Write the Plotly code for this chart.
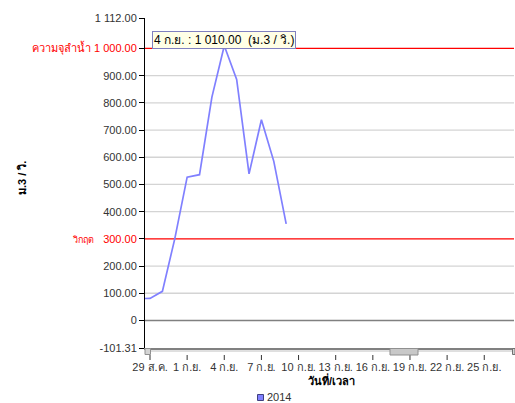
import plotly.graph_objects as go

dates = ["2014-08-28", "2014-08-29", "2014-08-30", "2014-08-31", "2014-09-01",
         "2014-09-02", "2014-09-03", "2014-09-04", "2014-09-05", "2014-09-06",
         "2014-09-07", "2014-09-08", "2014-09-09"]
flow = [80, 81, 107, 300, 527, 536, 821, 1010, 886, 539, 738, 585, 355]
series_name = "2014"

x_tick_vals = ["2014-08-29", "2014-09-01", "2014-09-04", "2014-09-07", "2014-09-10",
               "2014-09-13", "2014-09-16", "2014-09-19", "2014-09-22", "2014-09-25"]
x_tick_text = ["29 ส.ค.", "1 ก.ย.", "4 ก.ย.", "7 ก.ย.", "10 ก.ย.",
               "13 ก.ย.", "16 ก.ย.", "19 ก.ย.", "22 ก.ย.", "25 ก.ย."]

y_min, y_max = -101.31, 1112.0
grid_vals = [100, 200, 400, 500, 600, 700, 800, 900]
capacity = 1000
critical = 300
y_tick_vals = [y_min, 0, 100, 200, 300, 400, 500, 600, 700, 800, 900, 1000, y_max]
y_tick_text = ["-101.31", "0", "100.00", "200.00",
               "<span style='color:red'><span style='font-size:9px'>วิกฤต</span>   300.00</span>",
               "400.00", "500.00", "600.00", "700.00", "800.00", "900.00",
               "<span style='color:red'>ความจุลำน้ำ 1 000.00</span>", "1 112.00"]

FONT = "Tahoma, Liberation Sans, Arial, sans-serif"
L, T, W, H = 145, 18, 369, 330
LINE_COLOR = "#8080ff"

def px(xp):
    return (xp - L) / W

def py(yp):
    return (T + H - yp) / H

fig = go.Figure()
fig.add_trace(go.Scatter(x=dates, y=flow, mode="lines", name=series_name,
                         line=dict(color=LINE_COLOR, width=1.7), showlegend=False))

shapes = []
for g in grid_vals:
    shapes.append(dict(type="line", xref="paper", x0=0, x1=1, yref="y", y0=g, y1=g,
                       line=dict(color="#d4d4d4", width=1.3), layer="below"))
for r in (capacity, critical):
    shapes.append(dict(type="line", xref="paper", x0=0, x1=1, yref="y", y0=r, y1=r,
                       line=dict(color="#ff0000", width=1.2), layer="below"))
# zero line
shapes.append(dict(type="line", xref="paper", x0=0, x1=1, yref="y", y0=0, y1=0,
                   line=dict(color="#808080", width=1.5), layer="below"))
# x tick marks below the scrollbar
for tv in x_tick_vals:
    shapes.append(dict(type="line", xref="x", x0=tv, x1=tv, yref="paper",
                       y0=py(355), y1=py(360), line=dict(color="#333333", width=1)))
# scrollbar
shapes += [
    dict(type="line", xref="paper", yref="paper", x0=px(145), x1=px(515), y0=py(351), y1=py(351),
         line=dict(color="#c0c0c0", width=1), layer="above"),
    dict(type="rect", xref="paper", yref="paper", x0=px(145), x1=px(150.5), y0=py(354.5), y1=py(348.5),
         fillcolor="#d4d4d4", line=dict(color="#909090", width=1), layer="above"),
    dict(type="rect", xref="paper", yref="paper", x0=px(390), x1=px(418), y0=py(355), y1=py(348.5),
         fillcolor="#c8c8c8", line=dict(color="#909090", width=1), layer="above"),
    dict(type="rect", xref="paper", yref="paper", x0=px(512.5), x1=px(515), y0=py(354.5), y1=py(348.5),
         fillcolor="#d4d4d4", line=dict(color="#707070", width=1), layer="above"),
]
# legend swatch
shapes.append(dict(type="rect", xref="paper", yref="paper", x0=px(257.5), x1=px(263.5),
                   y0=py(400.5), y1=py(394.5), fillcolor=LINE_COLOR,
                   line=dict(color="#404080", width=1)))

annotations = [
    dict(text="4 ก.ย. : 1 010.00  (ม.3 / วิ.)", xref="paper", yref="paper",
         x=px(152), y=py(39.5), xanchor="left", yanchor="middle", showarrow=False,
         bgcolor="#ffffe6", bordercolor="#8080c0", borderwidth=1, borderpad=1,
         font=dict(family=FONT, size=12, color="#000000")),
    dict(text="<b>ม.3 / วิ.</b>", xref="paper", yref="paper", x=px(22), y=py(178),
         xanchor="center", yanchor="middle", textangle=-90, showarrow=False,
         font=dict(family=FONT, size=11, color="#000000")),
    dict(text="<b>วันที่/เวลา</b>", xref="paper", yref="paper", x=px(331), y=py(380),
         xanchor="center", yanchor="middle", showarrow=False,
         font=dict(family=FONT, size=11, color="#000000")),
    dict(text=series_name, xref="paper", yref="paper", x=px(265), y=py(397.5),
         xanchor="left", yanchor="middle", showarrow=False,
         font=dict(family=FONT, size=11, color="#333333")),
]

fig.update_layout(
    width=515, height=403,
    margin=dict(l=L, r=515 - L - W, t=T, b=403 - T - H),
    paper_bgcolor="white", plot_bgcolor="white",
    font=dict(family=FONT, size=11, color="#333333"),
    shapes=shapes, annotations=annotations, showlegend=False,
    xaxis=dict(type="date", range=["2014-08-28 14:18", "2014-09-27 09:40"],
               tickvals=x_tick_vals, ticktext=x_tick_text,
               showgrid=False, zeroline=False,
               showline=True, linecolor="#808080", linewidth=1.5,
               ticks="", ticklabelstandoff=8,
               tickfont=dict(family=FONT, size=11, color="#333333"), fixedrange=True),
    yaxis=dict(range=[y_min, y_max], tickvals=y_tick_vals, ticktext=y_tick_text,
               showgrid=False, zeroline=False,
               showline=True, linecolor="#000000", linewidth=1,
               ticks="outside", ticklen=5, tickcolor="#000000",
               tickfont=dict(family=FONT, size=11, color="#333333"), fixedrange=True),
)

fig.write_html("out.html", config={"displayModeBar": False},
               post_script="document.body.style.margin='0';")
